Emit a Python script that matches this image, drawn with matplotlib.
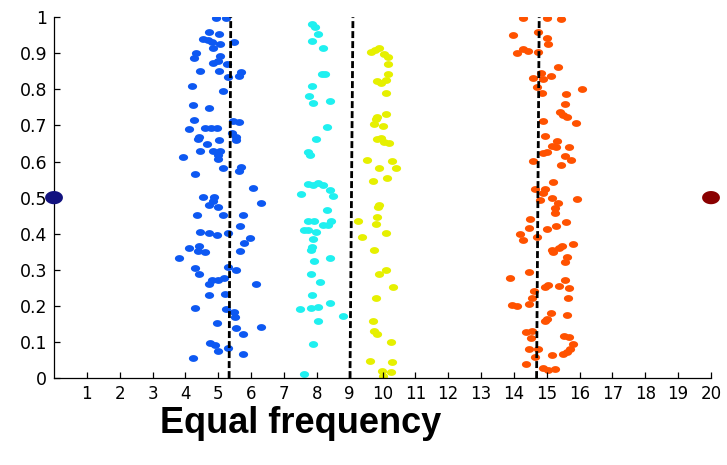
import numpy as np
import matplotlib
matplotlib.use("Agg")
import matplotlib.pyplot as plt
from matplotlib.path import Path

# equal-frequency binning of 1-D samples (jittered vertically)
blue_x = [4.92, 5.24, 4.73, 5.03, 4.54, 4.70, 4.80, 5.05, 5.48, 4.83, 4.31, 4.26, 5.05, 5.00,
          4.83, 5.26, 4.44, 5.02, 5.68, 5.64, 5.29, 4.19, 5.14, 4.22, 4.72, 4.26, 5.64, 5.46,
          4.11, 4.60, 4.78, 4.95, 5.41, 4.42, 4.37, 5.54, 5.54, 5.03, 4.65, 4.44, 4.85, 5.05,
          5.00, 4.98, 3.94, 5.68, 5.64, 5.14, 4.29, 6.07, 4.54, 4.87, 4.83, 4.73, 5.00, 6.30,
          4.34, 5.14, 5.76, 5.66, 4.44, 4.73, 4.95, 5.29, 5.97, 5.79, 4.11, 4.42, 4.39, 4.60,
          5.66, 3.81, 4.29, 4.42, 5.31, 5.54, 4.80, 5.00, 5.18, 4.73, 6.15, 4.73, 5.21, 4.29,
          5.24, 5.48, 5.51, 4.95, 5.54, 6.30, 5.76, 4.75, 4.90, 5.29, 5.00, 5.76, 4.24]
blue_y = [0.999, 0.997, 0.960, 0.953, 0.939, 0.937, 0.930, 0.925, 0.932, 0.916, 0.902, 0.886,
          0.893, 0.879, 0.874, 0.870, 0.851, 0.851, 0.849, 0.837, 0.835, 0.809, 0.796, 0.756,
          0.748, 0.715, 0.710, 0.713, 0.689, 0.694, 0.694, 0.692, 0.680, 0.669, 0.662, 0.667,
          0.660, 0.660, 0.649, 0.629, 0.630, 0.630, 0.618, 0.606, 0.612, 0.586, 0.575, 0.583,
          0.566, 0.526, 0.501, 0.503, 0.491, 0.480, 0.473, 0.485, 0.452, 0.452, 0.451, 0.420,
          0.406, 0.403, 0.397, 0.401, 0.388, 0.374, 0.361, 0.366, 0.353, 0.350, 0.353, 0.332,
          0.304, 0.289, 0.307, 0.300, 0.272, 0.272, 0.277, 0.261, 0.261, 0.229, 0.233, 0.194,
          0.192, 0.184, 0.169, 0.152, 0.140, 0.141, 0.122, 0.098, 0.092, 0.083, 0.076, 0.067,
          0.055]

cyan_x = [7.84, 7.95, 8.05, 7.86, 8.20, 8.15, 8.25, 7.86, 7.76, 8.40, 7.89, 8.30, 7.98, 7.74,
          7.79, 7.74, 7.89, 8.03, 8.18, 8.40, 7.52, 8.50, 8.30, 7.74, 7.92, 8.20, 8.43, 8.33,
          7.61, 7.74, 7.98, 7.89, 7.84, 7.82, 7.92, 8.40, 7.82, 8.10, 7.86, 8.40, 7.49, 7.82,
          8.03, 8.81, 8.05, 7.88, 7.61]
cyan_y = [0.981, 0.974, 0.953, 0.934, 0.914, 0.842, 0.842, 0.809, 0.782, 0.769, 0.761, 0.697,
          0.663, 0.627, 0.618, 0.538, 0.535, 0.540, 0.535, 0.521, 0.510, 0.505, 0.466, 0.434,
          0.434, 0.424, 0.434, 0.424, 0.411, 0.411, 0.404, 0.386, 0.363, 0.355, 0.323, 0.332,
          0.289, 0.265, 0.229, 0.207, 0.192, 0.194, 0.198, 0.172, 0.158, 0.095, 0.012]

yellow_x = [9.65, 9.77, 9.90, 10.05, 10.18, 10.18, 10.18, 10.11, 9.82, 9.95, 10.10, 10.11,
            9.82, 9.80, 9.74, 10.02, 9.82, 9.95, 10.05, 10.21, 9.52, 10.28, 9.90, 10.40, 9.72,
            10.13, 9.90, 9.87, 9.24, 9.82, 9.80, 10.10, 9.37, 9.75, 10.11, 9.90, 10.33, 9.79,
            9.72, 9.75, 9.82, 10.26, 9.62, 10.30, 9.98, 10.26, 10.02]
yellow_y = [0.904, 0.909, 0.914, 0.898, 0.889, 0.870, 0.843, 0.826, 0.823, 0.817, 0.791, 0.731,
            0.724, 0.717, 0.704, 0.699, 0.662, 0.665, 0.655, 0.652, 0.604, 0.602, 0.583, 0.583,
            0.546, 0.555, 0.480, 0.473, 0.436, 0.447, 0.426, 0.401, 0.390, 0.355, 0.300, 0.289,
            0.253, 0.221, 0.158, 0.129, 0.122, 0.099, 0.048, 0.044, 0.020, 0.016, 0.006]

orange_x = [14.27, 14.74, 15.00, 15.42, 13.96, 15.00, 15.05, 14.09, 14.27, 14.44, 14.74, 15.35,
            14.82, 15.12, 14.59, 14.90, 14.69, 14.85, 16.08, 15.59, 15.56, 15.40, 15.50, 15.63,
            15.89, 14.88, 14.95, 15.30, 15.15, 15.28, 15.69, 14.90, 15.00, 15.56, 15.73, 14.57,
            15.43, 15.20, 14.64, 14.95, 14.90, 15.15, 15.91, 14.79, 15.35, 15.25, 15.25, 14.49,
            15.59, 14.47, 15.00, 15.28, 14.19, 14.27, 14.69, 15.79, 15.46, 15.38, 15.15, 15.20,
            15.63, 15.56, 14.47, 13.88, 15.56, 15.05, 14.95, 15.38, 15.69, 14.62, 14.54, 15.66,
            13.93, 14.09, 14.47, 15.13, 15.63, 15.00, 14.95, 14.37, 14.54, 14.51, 15.53, 15.69,
            15.79, 15.71, 15.61, 15.50, 14.47, 14.74, 15.15, 14.64, 14.37, 14.90, 15.25, 15.05]
orange_y = [0.997, 0.958, 0.999, 0.994, 0.951, 0.942, 0.926, 0.902, 0.911, 0.906, 0.904, 0.863,
            0.845, 0.838, 0.831, 0.829, 0.806, 0.789, 0.800, 0.787, 0.760, 0.737, 0.729, 0.723,
            0.706, 0.711, 0.672, 0.658, 0.643, 0.641, 0.641, 0.625, 0.627, 0.614, 0.604, 0.602,
            0.591, 0.542, 0.523, 0.523, 0.512, 0.500, 0.496, 0.494, 0.484, 0.471, 0.457, 0.441,
            0.432, 0.417, 0.412, 0.420, 0.399, 0.383, 0.390, 0.371, 0.366, 0.360, 0.355, 0.348,
            0.335, 0.321, 0.293, 0.277, 0.272, 0.258, 0.253, 0.255, 0.249, 0.242, 0.221, 0.221,
            0.203, 0.200, 0.205, 0.180, 0.175, 0.163, 0.158, 0.127, 0.129, 0.111, 0.117, 0.115,
            0.095, 0.081, 0.072, 0.067, 0.080, 0.080, 0.064, 0.058, 0.039, 0.027, 0.025, 0.023]

# range end points
end_x = [0, 20]
end_y = [0.5, 0.5]

# bin boundaries (bottom / top x of each dashed line)
cut_bottom = [5.33, 9.01, 14.69]
cut_top = [5.38, 9.10, 14.77]

x_ticks = list(range(1, 21))
y_ticks = [0, 0.1, 0.2, 0.3, 0.4, 0.5, 0.6, 0.7, 0.8, 0.9, 1]
y_tick_labels = ["0", "0.1", "0.2", "0.3", "0.4", "0.5", "0.6", "0.7", "0.8", "0.9", "1"]

# slightly flattened dot marker
t = np.linspace(0, 2 * np.pi, 40)
ellipse = Path(np.column_stack([1.35 * np.cos(t), np.sin(t)]), closed=True)

fig = plt.figure(figsize=(7.27, 4.65), dpi=100)
ax = fig.add_axes([0.0743, 0.187, 0.9037, 0.776])

dot = 44
ax.scatter(blue_x, blue_y, s=dot, marker=ellipse, color="#0d58f2", lw=0)
ax.scatter(cyan_x, cyan_y, s=dot, marker=ellipse, color="#1ff0f0", lw=0)
ax.scatter(yellow_x, yellow_y, s=dot, marker=ellipse, color="#e6f000", lw=0)
ax.scatter(orange_x, orange_y, s=dot, marker=ellipse, color="#ff5200", lw=0)
ax.scatter(end_x, end_y, s=165, marker=ellipse, color=["#12127f", "#8a0000"], lw=0,
           clip_on=False, zorder=5)

for xb, xt in zip(cut_bottom, cut_top):
    ax.plot([xb, xt], [0, 1], color="black", lw=2, linestyle=(0, (2.5, 1.1)), zorder=4)

ax.set_xlim(0, 20)
ax.set_ylim(0, 1)
ax.set_xticks(x_ticks)
ax.set_yticks(y_ticks)
ax.set_yticklabels(y_tick_labels)
for side in ["top", "right"]:
    ax.spines[side].set_visible(False)
for side in ["left", "bottom"]:
    ax.spines[side].set_linewidth(0.9)
ax.tick_params(direction="in", length=4, width=0.9, labelsize=12.5, pad=5)
ax.tick_params(axis="x", labelsize=12, pad=5)

fig.text(0.413, 0.068, "Equal frequency", fontsize=26, fontweight="bold",
         family="Liberation Sans", ha="center", va="baseline")

fig.savefig("out.png", dpi=100)
